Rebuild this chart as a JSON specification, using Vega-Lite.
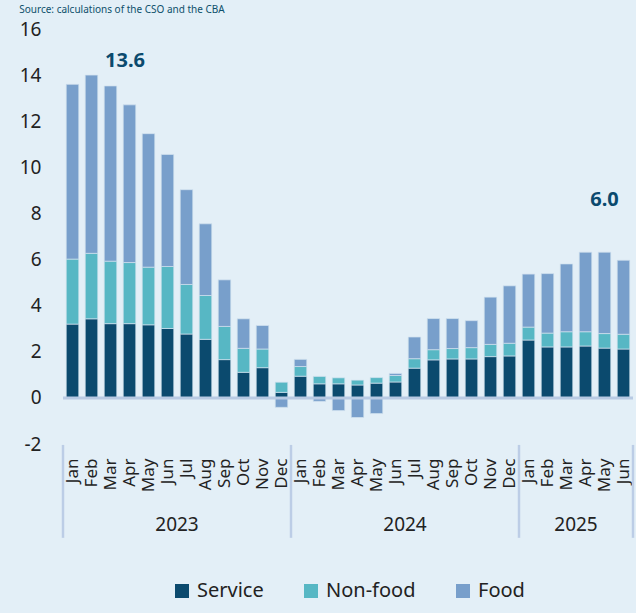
{
  "$schema": "https://vega.github.io/schema/vega-lite/v6.json",
  "autosize": "none",
  "width": 570,
  "height": 415,
  "padding": {"left": 63, "top": 29, "right": 3, "bottom": 169},
  "background": "#e3eff7",
  "title": {"text": "Source: calculations of the CSO and the CBA", "anchor": "start", "frame": "bounds", "fontSize": 10, "font": "Noto Sans", "fontWeight": "normal", "color": "#0d4f6b", "baseline": "alphabetic", "offset": -3},
  "config": {"view": {"stroke": null}, "font": "Noto Sans"},
  "datasets": {
    "cpi": [
      {"month": "2023-01", "Service": 3.2, "Non-food": 2.82, "Food": 7.58},
      {"month": "2023-02", "Service": 3.43, "Non-food": 2.84, "Food": 7.73},
      {"month": "2023-03", "Service": 3.22, "Non-food": 2.71, "Food": 7.6},
      {"month": "2023-04", "Service": 3.22, "Non-food": 2.65, "Food": 6.84},
      {"month": "2023-05", "Service": 3.17, "Non-food": 2.5, "Food": 5.79},
      {"month": "2023-06", "Service": 3.01, "Non-food": 2.69, "Food": 4.86},
      {"month": "2023-07", "Service": 2.77, "Non-food": 2.15, "Food": 4.11},
      {"month": "2023-08", "Service": 2.54, "Non-food": 1.9, "Food": 3.11},
      {"month": "2023-09", "Service": 1.66, "Non-food": 1.44, "Food": 2.02},
      {"month": "2023-10", "Service": 1.11, "Non-food": 1.04, "Food": 1.28},
      {"month": "2023-11", "Service": 1.31, "Non-food": 0.81, "Food": 1.02},
      {"month": "2023-12", "Service": 0.24, "Non-food": 0.44, "Food": -0.41},
      {"month": "2024-01", "Service": 0.94, "Non-food": 0.42, "Food": 0.31},
      {"month": "2024-02", "Service": 0.61, "Non-food": 0.32, "Food": -0.15},
      {"month": "2024-03", "Service": 0.61, "Non-food": 0.26, "Food": -0.55},
      {"month": "2024-04", "Service": 0.56, "Non-food": 0.21, "Food": -0.85},
      {"month": "2024-05", "Service": 0.64, "Non-food": 0.24, "Food": -0.68},
      {"month": "2024-06", "Service": 0.69, "Non-food": 0.28, "Food": 0.09},
      {"month": "2024-07", "Service": 1.29, "Non-food": 0.41, "Food": 0.94},
      {"month": "2024-08", "Service": 1.65, "Non-food": 0.44, "Food": 1.35},
      {"month": "2024-09", "Service": 1.69, "Non-food": 0.45, "Food": 1.3},
      {"month": "2024-10", "Service": 1.69, "Non-food": 0.49, "Food": 1.17},
      {"month": "2024-11", "Service": 1.79, "Non-food": 0.53, "Food": 2.05},
      {"month": "2024-12", "Service": 1.82, "Non-food": 0.55, "Food": 2.49},
      {"month": "2025-01", "Service": 2.51, "Non-food": 0.56, "Food": 2.3},
      {"month": "2025-02", "Service": 2.21, "Non-food": 0.6, "Food": 2.58},
      {"month": "2025-03", "Service": 2.21, "Non-food": 0.66, "Food": 2.94},
      {"month": "2025-04", "Service": 2.25, "Non-food": 0.62, "Food": 3.45},
      {"month": "2025-05", "Service": 2.16, "Non-food": 0.63, "Food": 3.53},
      {"month": "2025-06", "Service": 2.12, "Non-food": 0.64, "Food": 3.21}
    ],
    "years": [
      {"month": "2023-07", "year": "2023"},
      {"month": "2024-07", "year": "2024"},
      {"month": "2025-04", "year": "2025"}
    ],
    "seps": [{"month": "2023-01"}, {"month": "2024-01"}, {"month": "2025-01"}],
    "ends": [{"month": "2025-06"}],
    "notes": [{"month": "2023-01", "total": 13.6}, {"month": "2025-06", "total": 6.0}]
  },
  "layer": [
    {
      "data": {"name": "cpi"},
      "transform": [{"fold": ["Service", "Non-food", "Food"], "as": ["category", "value"]}],
      "mark": {"type": "bar", "stroke": "#d3e2ef", "strokeWidth": 0.7},
      "encoding": {
        "x": {
          "field": "month", "type": "ordinal",
          "scale": {"paddingInner": 0.34, "paddingOuter": 0.17},
          "axis": {
            "title": null, "ticks": false, "domain": false, "labelAngle": -90,
            "labelPadding": 14, "labelFontSize": 17, "labelColor": "#222222", "labelOverlap": false,
            "labelExpr": "['Jan','Feb','Mar','Apr','May','Jun','Jul','Aug','Sep','Oct','Nov','Dec'][toNumber(substring(datum.value,5,7))-1]"
          }
        },
        "y": {
          "field": "value", "type": "quantitative", "stack": "zero",
          "scale": {"domain": [-2, 16], "nice": false, "zero": false},
          "axis": {"title": null, "values": [-2, 0, 2, 4, 6, 8, 10, 12, 14, 16], "labelExpr": "datum.value + ''", "ticks": false, "domain": false, "grid": false, "labelPadding": 22, "labelFontSize": 19, "labelColor": "#222222"}
        },
        "color": {
          "field": "category", "type": "nominal",
          "scale": {"domain": ["Service", "Non-food", "Food"], "range": ["#0b4a6e", "#57b7c4", "#789fcb"]},
          "legend": {"orient": "none", "legendX": 109, "legendY": 552, "direction": "horizontal", "title": null, "symbolType": "square", "symbolSize": 196, "symbolStrokeWidth": 0, "labelFontSize": 20, "labelColor": "#222222", "columnPadding": 37, "labelOffset": 5}
        },
        "order": {"field": "category", "sort": "descending"}
      }
    },
    {
      "data": {"values": [{}]},
      "mark": {"type": "rule", "color": "#b8cae3", "strokeWidth": 3},
      "encoding": {"y": {"datum": 0, "type": "quantitative"}}
    },
    {
      "data": {"name": "seps"},
      "mark": {"type": "rule", "color": "#bccde6", "strokeWidth": 2.5},
      "encoding": {
        "x": {"field": "month", "type": "ordinal", "bandPosition": -0.2576},
        "y": {"datum": -2.04, "type": "quantitative"},
        "y2": {"datum": -6.07}
      }
    },
    {
      "data": {"name": "ends"},
      "mark": {"type": "rule", "color": "#bccde6", "strokeWidth": 2.5},
      "encoding": {
        "x": {"field": "month", "type": "ordinal", "bandPosition": 1.2576},
        "y": {"datum": -2.04, "type": "quantitative"},
        "y2": {"datum": -6.07}
      }
    },
    {
      "data": {"name": "years"},
      "mark": {"type": "text", "fontSize": 19, "color": "#222222", "align": "center", "baseline": "middle"},
      "encoding": {
        "x": {"field": "month", "type": "ordinal", "bandPosition": -0.2576},
        "y": {"datum": -5.5, "type": "quantitative"},
        "text": {"field": "year"}
      }
    },
    {
      "data": {"name": "notes"},
      "transform": [{"filter": "datum.month == '2023-01'"}],
      "mark": {"type": "text", "fontSize": 20, "fontWeight": "bold", "color": "#0b4a6e", "align": "center", "baseline": "middle", "dx": 52.5, "dy": -23.7},
      "encoding": {
        "x": {"field": "month", "type": "ordinal"},
        "y": {"field": "total", "type": "quantitative"},
        "text": {"field": "total", "format": ".1f"}
      }
    },
    {
      "data": {"name": "notes"},
      "transform": [{"filter": "datum.month == '2025-06'"}],
      "mark": {"type": "text", "fontSize": 20, "fontWeight": "bold", "color": "#0b4a6e", "align": "center", "baseline": "middle", "dx": -19, "dy": -59.6},
      "encoding": {
        "x": {"field": "month", "type": "ordinal"},
        "y": {"field": "total", "type": "quantitative"},
        "text": {"field": "total", "format": ".1f"}
      }
    }
  ]
}
